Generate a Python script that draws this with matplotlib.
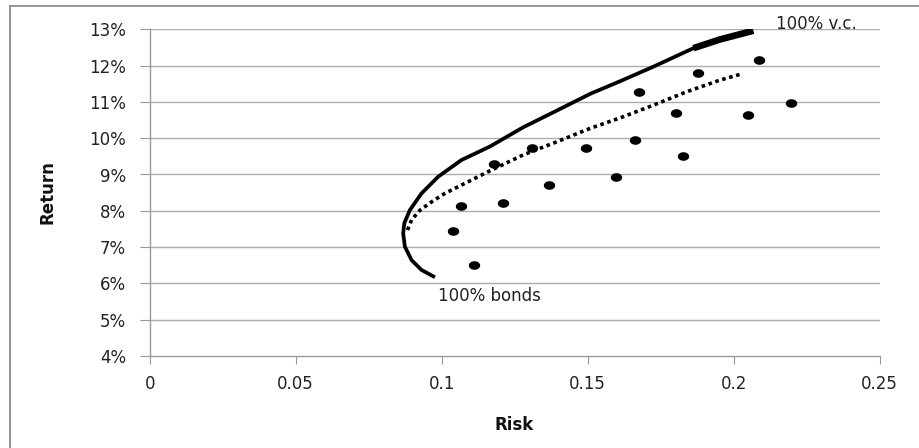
import matplotlib
matplotlib.use("Agg")
import matplotlib.pyplot as plt
from matplotlib.lines import Line2D
from matplotlib.path import Path
import numpy as np

# Efficient frontier (solid)
solid_risk = [0.0977, 0.0931, 0.0897, 0.0874, 0.0868, 0.0872, 0.0891, 0.0931, 0.0988,
              0.1068, 0.1165, 0.1279, 0.1394, 0.1508, 0.1611, 0.1725, 0.1862, 0.1953, 0.2067]
solid_ret = [6.17, 6.37, 6.64, 7.01, 7.38, 7.66, 8.02, 8.48, 8.94,
             9.40, 9.77, 10.30, 10.76, 11.22, 11.57, 11.97, 12.48, 12.72, 12.96]

# Thick end segment of the solid frontier
thick_risk = [0.1862, 0.1953, 0.2067]
thick_ret = [12.48, 12.72, 12.96]

# Dotted frontier
dot_risk = [0.0883, 0.0897, 0.0926, 0.0966, 0.1011, 0.1068, 0.1125, 0.1165, 0.1279,
            0.1394, 0.1508, 0.1611, 0.1725, 0.1839, 0.1953, 0.2027]
dot_ret = [7.47, 7.75, 8.02, 8.25, 8.48, 8.71, 8.94, 9.10, 9.54,
           9.90, 10.27, 10.56, 10.91, 11.28, 11.60, 11.77]

# Individual portfolios (scatter)
pts_risk = [0.2085, 0.1877, 0.1675, 0.2196, 0.1801, 0.2049, 0.1663, 0.1825, 0.1494,
            0.1309, 0.1179, 0.1598, 0.1368, 0.1210, 0.1066, 0.1040, 0.1111]
pts_ret = [12.15, 11.79, 11.28, 10.98, 10.69, 10.63, 9.95, 9.51, 9.74,
           9.74, 9.28, 8.94, 8.71, 8.21, 8.13, 7.45, 6.51]

x_ticks = [0, 0.05, 0.1, 0.15, 0.2, 0.25]
x_ticklabels = ["0", "0.05", "0.1", "0.15", "0.2", "0.25"]
y_ticks = [4, 5, 6, 7, 8, 9, 10, 11, 12, 13]
y_ticklabels = [f"{v}%" for v in y_ticks]

plt.rcParams['font.family'] = ['DejaVu Sans']

W, H = 919, 448
fig = plt.figure(figsize=(W / 100, H / 100), dpi=100)
fig.patch.set_facecolor("white")

L, R, T, B = 149.7, 879.7, 29.3, 356.0
ax = fig.add_axes([L / W, 1 - B / H, (R - L) / W, (B - T) / H])

grid_c = "#adadad"
for v in y_ticks[1:]:
    ax.axhline(v, color=grid_c, lw=1.0, zorder=0)

ax.plot(solid_risk, solid_ret, color="black", lw=2.7, solid_capstyle="butt",
        solid_joinstyle="round", zorder=3)
ax.plot(thick_risk, thick_ret, color="black", lw=4.8, solid_capstyle="butt",
        solid_joinstyle="round", zorder=3)
ax.plot(dot_risk, dot_ret, color="black", lw=2.6, linestyle=(0, (1.0, 1.0)),
        dash_capstyle="butt", zorder=3)

# slightly wide elliptical dot marker
t = np.linspace(0, 2 * np.pi, 40)
ell = Path(np.column_stack([np.cos(t) * 1.0, np.sin(t) * 0.72]), closed=True)
ax.plot(pts_risk, pts_ret, linestyle="none", marker=ell, markersize=7.2,
        color="black", zorder=4)

ax.set_xlim(0, 0.25)
ax.set_ylim(4, 13)
ax.set_xticks(x_ticks)
ax.set_xticklabels(x_ticklabels)
ax.set_yticks(y_ticks)
ax.set_yticklabels(y_ticklabels)

for s in ["top", "right"]:
    ax.spines[s].set_visible(False)
for s in ["left", "bottom"]:
    ax.spines[s].set_color("#9a9a9a")
    ax.spines[s].set_linewidth(1.0)

ax.tick_params(axis="x", direction="out", length=6, width=0.8, color="#9a9a9a",
               pad=8, labelsize=12, labelcolor="#222222")
ax.tick_params(axis="y", direction="out", length=7, width=0.8, color="#9a9a9a",
               pad=10, labelsize=12, labelcolor="#222222")

ax.set_xlabel("Risk", fontsize=12, fontweight="bold", color="#111111")
ax.set_ylabel("Return", fontsize=12, fontweight="bold", color="#111111")
ax.xaxis.set_label_coords((514 - L) / (R - L), -(416 - B) / (B - T))
ax.yaxis.set_label_coords((57 - L) / (R - L), (B - 192) / (B - T))

ax.text(0.2145, 13.0, "100% v.c.", fontsize=12, color="#222222",
        ha="left", va="baseline", zorder=5)
ax.text(0.0987, 5.65, "100% bonds", fontsize=12, color="#222222",
        ha="left", va="center", zorder=5)

# outer chart frame (left and top visible)
fc = "#8c8c8c"
fig.add_artist(Line2D([10 / W, 10 / W], [0, 1 - 6 / H], color=fc, lw=1.3,
                      transform=fig.transFigure))
fig.add_artist(Line2D([10 / W, 1], [1 - 6 / H, 1 - 6 / H], color=fc, lw=1.3,
                      transform=fig.transFigure))

fig.savefig("out.png", dpi=100, facecolor="white")
